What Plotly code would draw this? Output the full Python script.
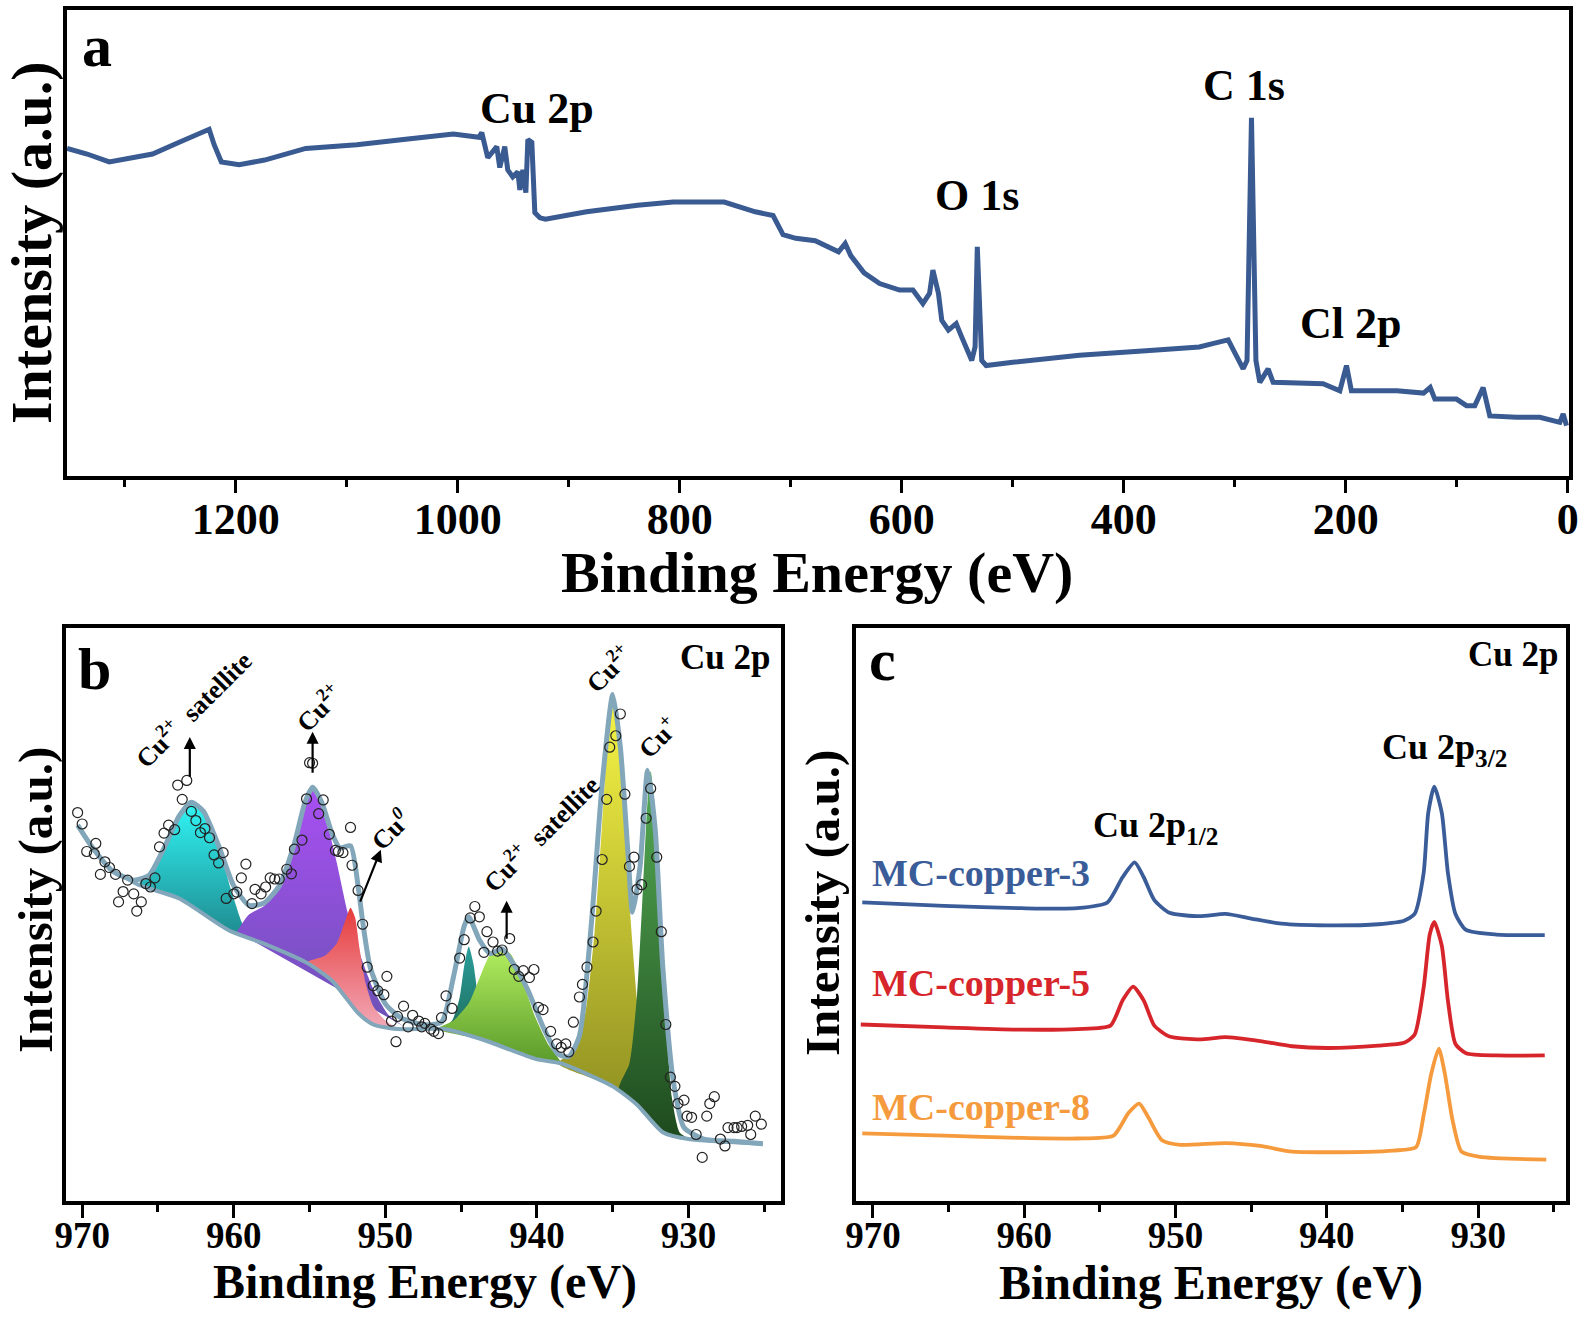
import plotly.graph_objects as go

# ---------------- panel a : survey spectrum ----------------
survey_ev = [1352, 1334, 1314, 1293, 1275, 1252, 1236, 1224, 1219.5, 1213, 1197, 1174, 1137, 1091,
             1045, 1004, 981, 978.4, 973, 964.9, 962.2, 957.7, 955, 950.5, 945.9, 944.1, 941.4,
             938.7, 936.9, 933.3, 930.6, 926, 921, 884, 838, 806, 760, 732, 716, 707, 695.5, 678,
             657, 651, 646, 637, 634, 620, 602, 590, 581, 575, 572, 567, 564, 558, 551, 546, 537,
             534, 532, 528, 524, 500, 440, 380, 332, 320, 306, 292.5, 289, 285, 281, 277.5, 270,
             265.5, 241, 220.5, 205.4, 199.4, 195, 154, 130, 124, 119.8, 100.3, 91.3, 83.8, 76.3,
             70.3, 46.2, 25.2, 7.2, 4.2, 1.2]
survey_int = [70.3, 69.1, 67.4, 68.2, 69.1, 71.5, 73.2, 74.4, 71.1, 67.4, 66.8, 67.8, 70.3, 71.1,
              72.3, 73.4, 72.7, 73.7, 68.3, 70.7, 66.2, 70.7, 65.7, 64.2, 65.3, 61.4, 65.7,
              60.8, 72.2, 71.6, 56.5, 55.4, 55.1, 56.7, 58.1, 58.8, 58.8, 56.7, 55.9, 51.8, 51.0, 50.5,
              48.1, 49.9, 47.3, 44.8, 43.6, 41.3, 39.9, 39.9, 37.0, 39.2, 44.2, 39.2, 33.4, 31.3, 32.7, 29.8, 24.8,
              27.7, 49.2, 24.8, 23.7, 24.4, 25.9, 26.9, 27.7, 28.4, 29.2, 23.0, 24.8, 76.9, 24.8, 20.1, 23.0,
              20.1, 19.8, 19.8, 18.3, 23.7, 18.3, 18.3, 17.8, 19.0, 16.5, 16.5, 15.1, 15.1, 19.0,
              12.9, 12.6, 12.6, 11.5, 13.3, 10.8]

survey_peak_labels = ["Cu 2p", "O 1s", "C 1s", "Cl 2p"]
survey_peak_ev = [928.8, 532.6, 291.4, 195.8]
survey_peak_int = [78.9, 60.1, 83.8, 32.8]

# ---------------- panel b : Cu 2p fit ----------------
b_points_ev = [970.3, 970.0, 969.7, 969.2, 969.1, 968.8, 968.5, 968.2, 967.8, 967.6, 967.3, 967.0,
               966.6, 966.4, 966.1, 965.8, 965.5, 965.2, 964.9, 964.6, 964.3, 963.9, 963.7, 963.4,
               963.1, 962.8, 962.5, 962.2, 961.9, 961.6, 961.3, 961.0, 960.7, 960.5, 960.0, 959.8,
               959.5, 959.2, 958.8, 958.6, 958.2, 957.9, 957.6, 957.3, 957.0, 956.5, 956.2, 956.0,
               955.5, 955.2, 955.0, 954.8, 954.4, 954.1, 953.7, 953.3, 953.1, 952.8, 952.3, 952.2,
               951.8, 951.5, 951.2, 950.8, 950.5, 950.1, 949.9, 949.6, 949.3, 949.2, 948.8, 948.5,
               948.2, 947.8, 947.6, 947.4, 947.0, 946.8, 946.5, 946.3, 946.0, 945.6, 945.1, 944.8,
               944.4, 944.1, 943.8, 943.5, 943.3, 942.9, 942.6, 942.3, 941.8, 941.5, 941.2, 940.9,
               940.5, 940.2, 939.9, 939.6, 939.1, 938.7, 938.4, 938.1, 937.9, 937.6, 937.2, 937.0,
               936.7, 936.3, 936.1, 935.7, 935.4, 935.2, 934.8, 934.5, 934.2, 933.9, 933.6, 933.4,
               933.1, 932.8, 932.5, 932.1, 931.8, 931.5, 931.2, 930.9, 930.7, 930.3, 930.1, 929.8,
               929.5, 929.1, 928.8, 928.6, 928.3, 927.9, 927.6, 927.4, 927.0, 926.8, 926.5, 926.1,
               925.9, 925.6, 925.2]
b_points_int = [67.8, 65.8, 61.0, 60.6, 62.4, 57.0, 59.2, 58.2, 57.0, 52.2, 54.0, 56.0,
                53.6, 50.6, 52.2, 55.4, 54.8, 56.4, 61.8, 64.2, 65.6, 64.8, 72.6, 70.1,
                73.4, 68.0, 66.4, 64.3, 65.0, 63.4, 60.4, 59.0, 60.8, 52.8, 53.6, 53.9,
                56.4, 58.8, 51.9, 54.4, 53.6, 54.8, 56.4, 56.2, 56.2, 57.9, 57.1, 61.4,
                63.0, 70.2, 76.5, 76.4, 67.6, 70.0, 64.0, 61.2, 61.0, 60.8, 65.2, 58.6,
                54.2, 48.3, 40.8, 37.6, 36.7, 36.0, 39.2, 31.4, 27.8, 32.2, 34.0, 30.4,
                32.4, 31.4, 30.4, 31.0, 30.0, 29.6, 29.2, 32.0, 35.8, 33.6, 42.4, 45.6,
                49.4, 51.4, 49.6, 43.4, 47.0, 45.2, 43.6, 43.8, 45.8, 40.4, 39.2, 40.2,
                39.0, 40.4, 33.8, 33.4, 29.6, 27.4, 26.8, 27.4, 26.0, 31.2, 35.6, 37.8,
                40.8, 45.2, 50.6, 59.6, 70.1, 79.2, 81.2, 85.0, 71.0, 58.4, 60.0, 54.4,
                55.2, 66.8, 72.0, 60.0, 47.0, 30.8, 21.6, 20.0, 17.0, 17.6, 14.8, 14.6,
                11.6, 7.6, 14.8, 17.0, 18.2, 10.8, 9.6, 12.8, 12.8, 12.8, 13.0, 13.2,
                11.6, 14.8, 13.4]

envelope_ev = [970.3, 969.3, 968.0, 966.6, 965.6, 964.6, 963.6, 962.8, 962.0, 961.0, 960.0, 959.0,
               958.0, 957.0, 956.0, 955.3, 954.8, 954.2, 953.5, 953.0, 952.3, 951.8, 951.5, 951.0,
               950.0, 949.0, 947.6, 946.3, 945.5, 944.8, 944.5, 943.8, 943.1, 942.3, 941.6, 940.6,
               939.6, 938.6, 937.9, 937.2, 936.4, 935.7, 935.0, 934.5, 934.0, 933.7, 933.2, 932.7,
               932.2, 931.7, 931.0, 930.3, 929.0, 927.0, 925.1]
envelope_int = [65.6, 61.6, 57.6, 56.0, 56.8, 61.6, 67.2, 69.6, 68.0, 62.0, 55.0, 51.6,
                52.0, 55.0, 62.4, 69.6, 72.2, 69.6, 64.0, 61.6, 62.0, 55.0, 48.8, 40.8,
                34.4, 32.0, 30.8, 31.2, 39.2, 48.0, 49.6, 45.6, 43.2, 44.0, 41.6, 36.8,
                30.4, 25.6, 25.2, 28.8, 48.8, 72.8, 88.4, 79.2, 60.8, 50.4, 58.4, 75.2,
                64.8, 40.8, 20.8, 12.8, 10.8, 10.4, 10.0]

baseline_ev = [967.5, 966.3, 963.6, 960.3, 957.9, 955.2, 953.5, 951.8, 950.8, 949.2, 946.1, 943.4,
               940.1, 938.4, 935.0, 933.4, 931.7, 930.0, 925.1]
baseline_int = [57.0, 55.2, 52.8, 47.2, 44.8, 41.6, 38.4, 32.8, 30.8, 30.0, 30.0, 28.0,
                24.8, 24.0, 20.0, 16.8, 12.0, 10.8, 10.0]

# fitted components (outline read along the peak, closed back along the background)
sat1_ev = [966.3, 965.6, 964.6, 963.6, 962.8, 962.0, 961.0, 960.2, 959.6, 959.2, 960.3, 963.6, 966.3]
sat1_int = [55.2, 56.8, 61.6, 67.2, 69.6, 68.0, 62.0, 54.5, 49.5, 46.2, 47.2, 52.8, 55.2]
cu2_a_ev = [959.8, 959.0, 958.0, 957.0, 956.0, 955.3, 954.8, 954.2, 953.7, 953.2, 952.5, 951.8,
            950.8, 949.8, 948.8]
cu2_a_int = [47.0, 50.0, 51.5, 54.5, 62.0, 69.2, 71.6, 69.2, 64.5, 59.0, 50.5, 44.0,
             37.0, 32.5, 30.5]
cu0_ev = [955.2, 954.0, 953.2, 952.7, 952.3, 952.0, 951.7, 951.3, 950.8, 950.0, 949.2, 950.8, 951.8,
          953.5, 955.2]
cu0_int = [41.6, 42.8, 45.0, 48.5, 51.2, 49.5, 44.0, 38.0, 34.0, 31.5, 30.0, 30.8, 32.8, 38.4, 41.6]
sat2a_ev = [946.3, 945.6, 945.1, 944.8, 944.5, 944.2, 943.9, 943.5, 943.0, 943.4, 946.1]
sat2a_int = [30.0, 31.5, 35.5, 41.0, 44.4, 41.5, 36.0, 31.0, 28.3, 28.0, 30.0]
sat2b_ev = [946.6, 945.5, 944.5, 943.7, 943.1, 942.4, 941.7, 940.9, 940.1, 939.3, 938.4, 940.1,
            943.4, 946.6]
sat2b_int = [30.0, 31.5, 34.5, 39.5, 43.0, 44.4, 43.0, 38.0, 32.0, 27.5, 24.0, 24.8, 28.0, 30.0]
cu2_b_ev = [938.6, 937.5, 936.8, 936.2, 935.7, 935.3, 935.0, 934.7, 934.3, 933.9, 933.4, 932.9,
            932.3, 931.7, 933.4, 935.0, 938.6]
cu2_b_int = [24.0, 26.5, 33.0, 47.0, 66.0, 82.0, 88.0, 84.0, 70.0, 52.0, 35.0, 24.0,
             16.5, 12.0, 16.8, 20.0, 24.0]
cu1_ev = [934.6, 933.9, 933.4, 933.0, 932.7, 932.5, 932.2, 931.9, 931.5, 931.1, 930.6, 930.0,
          931.7, 933.4, 934.6]
cu1_int = [19.5, 24.0, 36.0, 55.0, 70.0, 75.0, 68.0, 52.0, 32.0, 18.0, 12.0, 10.8,
           12.0, 16.8, 19.5]

b_labels = ["Cu<sup>2+</sup>  satellite", "Cu<sup>2+</sup>", "Cu<sup><i>0</i></sup>",
            "Cu<sup>2+</sup>  satellite", "Cu<sup>2+</sup>", "Cu<sup>+</sup>"]
b_label_ev = [962.7, 954.4, 949.7, 939.8, 935.3, 932.0]
b_label_int = [86.0, 86.2, 64.8, 64.2, 93.0, 81.0]
arrow_tail_ev = [962.9, 954.8, 951.7, 942.0]
arrow_tail_int = [73.8, 74.5, 52.0, 45.5]
arrow_head_ev = [962.9, 954.8, 950.3, 942.0]
arrow_head_int = [81.0, 81.9, 61.3, 52.4]

# ---------------- panel c : three samples ----------------
mc3_ev = [970.7, 965.3, 960.2, 956.5, 954.5, 953.5, 952.7, 952.1, 951.4, 950.4, 948.4, 946.7, 945.0,
          943.0, 940.0, 936.6, 934.9, 934.2, 933.6, 933.3, 932.9, 932.4, 932.0, 931.5, 930.8,
          928.8, 925.6]
mc3_int = [52.1, 51.5, 51.1, 51.1, 52.1, 56.5, 59.1, 56.5, 52.5, 50.3, 49.7, 50.1, 49.3,
           48.4, 48.1, 48.3, 48.9, 50.1, 57.3, 67.7, 72.3, 67.7, 57.3, 50.1, 47.3,
           46.5, 46.4]
mc5_ev = [970.8, 965.3, 960.2, 956.5, 954.3, 953.5, 952.8, 952.1, 951.4, 950.4, 948.4, 946.7, 944.4,
          942.3, 940.0, 936.6, 934.9, 934.2, 933.6, 933.2, 932.9, 932.4, 932.0, 931.5, 930.8,
          928.8, 925.6]
mc5_int = [30.8, 30.3, 29.9, 30.0, 30.6, 35.0, 37.4, 35.0, 30.6, 28.7, 28.2, 28.6, 27.9,
           27.0, 26.7, 27.1, 27.6, 29.0, 37.3, 46.5, 48.7, 44.5, 35.0, 27.4, 25.8,
           25.4, 25.4]
mc8_ev = [970.7, 965.3, 960.2, 956.5, 954.1, 953.1, 952.4, 951.8, 950.9, 949.7, 946.7, 944.4, 942.3,
          940.0, 935.6, 934.1, 933.6, 933.1, 932.6, 932.2, 931.7, 931.1, 929.9, 925.5]
mc8_int = [11.8, 11.4, 11.0, 10.9, 11.4, 15.4, 17.0, 14.6, 10.6, 9.8, 10.1, 9.6, 8.6,
           8.5, 8.8, 9.4, 15.0, 22.2, 26.6, 22.2, 14.2, 8.6, 7.7, 7.2]

sample_names = ["MC-copper-3", "MC-copper-5", "MC-copper-8"]
sample_label_int = [57.2, 38.0, 16.4]

FONT = "Liberation Serif"
DATA_BLUE = "#3a5a92"
FIT_LINE = "#82a6ba"
sample_colors = ["#3a5c99", "#d7262b", "#f59b3d"]
comp_styles = [  # (bottom colour, top colour)
    ("#1f8a8f", "#30f5f5"),
    ("#6b52b5", "#a84ff2"),
    ("#f2a9b8", "#e63c3c"),
    ("#1f6b5a", "#2a9e9a"),
    ("#5a9a2a", "#b5f060"),
    ("#8a8a20", "#f7f545"),
    ("#1e4a1e", "#55ad55"),
]


def bold(size, color="black"):
    return dict(family=FONT, size=size, color=color, weight="bold")


fig = go.Figure()

# panel a
fig.add_trace(go.Scatter(x=survey_ev, y=survey_int, mode="lines",
                         line=dict(color=DATA_BLUE, width=5), xaxis="x", yaxis="y"))

# panel b components
components = [(sat1_ev, sat1_int), (cu2_a_ev, cu2_a_int), (cu0_ev, cu0_int), (sat2a_ev, sat2a_int),
              (sat2b_ev, sat2b_int), (cu2_b_ev, cu2_b_int), (cu1_ev, cu1_int)]
for (cx, cy), (c0, c1) in zip(components, comp_styles):
    fig.add_trace(go.Scatter(
        x=cx, y=cy, mode="lines", fill="toself", line=dict(width=0, shape="spline", smoothing=0.6),
        fillgradient=dict(type="vertical", colorscale=[[0, c0], [1, c1]], start=min(cy), stop=max(cy)),
        xaxis="x2", yaxis="y2"))

fig.add_trace(go.Scatter(x=baseline_ev, y=baseline_int, mode="lines",
                         line=dict(color=FIT_LINE, width=4, shape="spline", smoothing=0.6),
                         xaxis="x2", yaxis="y2"))
fig.add_trace(go.Scatter(x=envelope_ev, y=envelope_int, mode="lines",
                         line=dict(color=FIT_LINE, width=5, shape="spline", smoothing=0.6),
                         xaxis="x2", yaxis="y2"))
fig.add_trace(go.Scatter(x=b_points_ev, y=b_points_int, mode="markers",
                         marker=dict(symbol="circle-open", size=10, color="#222222", line=dict(width=1.2)),
                         xaxis="x2", yaxis="y2"))

# panel c
for cx, cy, col in zip([mc3_ev, mc5_ev, mc8_ev], [mc3_int, mc5_int, mc8_int], sample_colors):
    fig.add_trace(go.Scatter(x=cx, y=cy, mode="lines",
                             line=dict(color=col, width=3.8, shape="spline", smoothing=0.6),
                             xaxis="x3", yaxis="y3"))

frame = dict(showline=True, linewidth=3.5, linecolor="black", mirror=True,
             showgrid=False, zeroline=False, automargin=False)
bx_ticks = dict(tickmode="array", tickvals=[970, 960, 950, 940, 930], ticks="outside", ticklen=13,
                tickwidth=3, tickcolor="black", tickfont=bold(37), ticklabelstandoff=-14,
                minor=dict(tickvals=[965, 955, 945, 935, 925], ticks="outside", ticklen=7,
                           tickwidth=3, tickcolor="black"))
y_plain = dict(range=[0, 100], showticklabels=False, ticks="", **frame)

fig.update_layout(
    template="none",
    width=1593, height=1320, margin=dict(l=0, r=0, t=0, b=0, autoexpand=False),
    paper_bgcolor="white", plot_bgcolor="white", showlegend=False,
    xaxis=dict(domain=[0.0421, 0.9849], range=[1352, -1], anchor="y",
               tickmode="array", tickvals=[1200, 1000, 800, 600, 400, 200, 0],
               ticks="outside", ticklen=13, tickwidth=3, tickcolor="black", tickfont=bold(44),
               ticklabelstandoff=-12,
               minor=dict(tickvals=[1300, 1100, 900, 700, 500, 300, 100], ticks="outside",
                          ticklen=7, tickwidth=3, tickcolor="black"), **frame),
    yaxis=dict(domain=[0.6394, 0.9924], anchor="x", **y_plain),
    xaxis2=dict(domain=[0.0414, 0.4903], range=[971.07, 923.9], anchor="y2", **bx_ticks, **frame),
    yaxis2=dict(domain=[0.0902, 0.5242], anchor="x2", **y_plain),
    xaxis3=dict(domain=[0.5375, 0.9830], range=[971.1, 924.2], anchor="y3", **bx_ticks, **frame),
    yaxis3=dict(domain=[0.0902, 0.5242], anchor="x3", **y_plain),
)

ann = []
# axis titles
ann.append(dict(text="Binding Energy (eV)", x=817 / 1593, y=1 - 572 / 1320, font=bold(58)))
ann.append(dict(text="Intensity (a.u.)", x=31 / 1593, y=1 - 243 / 1320, textangle=-90, font=bold(58)))
ann.append(dict(text="Binding Energy (eV)", x=425 / 1593, y=1 - 1282 / 1320, font=bold(48)))
ann.append(dict(text="Intensity (a.u.)", x=36 / 1593, y=1 - 900 / 1320, textangle=-90, font=bold(49)))
ann.append(dict(text="Binding Energy (eV)", x=1211 / 1593, y=1 - 1283 / 1320, font=bold(48)))
ann.append(dict(text="Intensity (a.u.)", x=822 / 1593, y=1 - 903 / 1320, textangle=-90, font=bold(49)))
for a in ann:
    a.update(xref="paper", yref="paper")

# panel letters
for letter, px, py in [("a", 97, 46), ("b", 94, 669), ("c", 882, 660)]:
    ann.append(dict(text=letter, x=px / 1593, y=1 - py / 1320, xref="paper", yref="paper",
                    font=bold(60)))

# panel a peak labels
for t, ex, iy in zip(survey_peak_labels, survey_peak_ev, survey_peak_int):
    ann.append(dict(text=t, x=ex, y=iy, xref="x", yref="y", font=bold(44)))

# panel b labels and arrows
ann.append(dict(text="Cu 2p", x=924.5, y=94.9, xref="x2", yref="y2", xanchor="right",
                font=bold(35)))
for t, ex, iy in zip(b_labels, b_label_ev, b_label_int):
    ann.append(dict(text=t, x=ex, y=iy, xref="x2", yref="y2", textangle=-45, font=bold(26)))

# panel c labels
ann.append(dict(text="Cu 2p", x=924.6, y=95.3, xref="x3", yref="y3", xanchor="right",
                font=bold(35)))
ann.append(dict(text="Cu 2p<sub>3/2</sub>", x=932.2, y=78.8, xref="x3", yref="y3", font=bold(36)))
ann.append(dict(text="Cu 2p<sub>1/2</sub>", x=951.3, y=65.2, xref="x3", yref="y3", font=bold(36)))
for name, iy, col in zip(sample_names, sample_label_int, sample_colors):
    ann.append(dict(text=name, x=970.2, y=iy, xref="x3", yref="y3", xanchor="left",
                    font=bold(38, col)))

for a in ann:
    a.setdefault("xanchor", "center")
    a["yanchor"] = "middle"
    a["showarrow"] = False

for tx, ty, hx, hy in zip(arrow_tail_ev, arrow_tail_int, arrow_head_ev, arrow_head_int):
    ann.append(dict(text="", x=hx, y=hy, ax=tx, ay=ty, xref="x2", yref="y2", axref="x2", ayref="y2",
                    showarrow=True, arrowhead=2, arrowsize=1.1, arrowwidth=2.2, arrowcolor="black"))

fig.update_layout(annotations=ann)
# the page body has a default 8px margin; drop it so the figure sits at the window corner
fig.write_html("out.html", config={"displayModeBar": False},
               post_script="document.body.style.margin='0px';")
